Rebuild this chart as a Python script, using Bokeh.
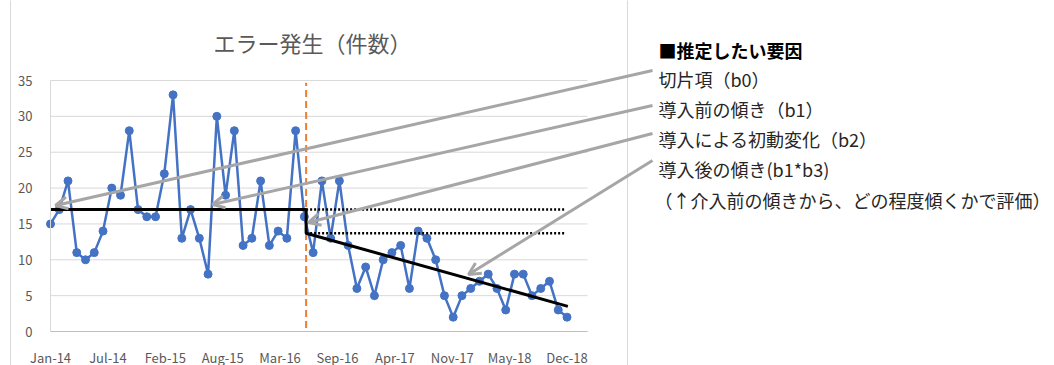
import numpy as np
from bokeh.plotting import figure
from bokeh.models import (Range1d, FixedTicker, Label, Arrow, OpenHead,
                          ColumnDataSource, LinearAxis)
from bokeh.embed import file_html
from bokeh.resources import INLINE

# ---------------- data ----------------
counts = [15, 17, 21, 11, 10, 11, 14, 20, 19, 28,
          17, 16, 16, 22, 33, 13, 17, 13, 8, 30,
          19, 28, 12, 13, 21, 12, 14, 13, 28, 16,
          11, 21, 13, 21, 12, 6, 9, 5, 10, 11,
          12, 6, 14, 13, 10, 5, 2, 5, 6, 7,
          8, 6, 3, 8, 8, 5, 6, 7, 3, 2]
tick_labels = ["Jan-14", "Jul-14", "Feb-15", "Aug-15", "Mar-16",
               "Sep-16", "Apr-17", "Nov-17", "May-18", "Dec-18"]
y_ticks = [0, 5, 10, 15, 20, 25, 30, 35]

# fitted segmented-regression lines
intervention = 29.2      # month index of the orange dashed line
b0 = 17.0                # level before intervention
post_start = 13.7        # level just after intervention
post_end_x = 59.1
post_end = 3.5
dotted_end_x = 58.7

title_text = "エラー発生（件数）"
heading = "■推定したい要因"
notes = ["切片項（b0）", "導入前の傾き（b1）", "導入による初動変化（b2）",
         "導入後の傾き(b1*b3)", "（↑介入前の傾きから、どの程度傾くかで評価）"]

FONT = "Noto Sans CJK JP"
GRAY = "#595959"

# ---------------- geometry of the plot area (pixels) ----------------
W, H = 1054, 365
left, right, top, bottom = 50, 587, 80, 331
n = len(counts)
px_per_month = (566 - 49.5) / (n - 1)
px_per_unit = (bottom - top) / 35.0
x_end = (right - left) / px_per_month

def dx(px):
    return (px - left) / px_per_month

def dy(py):
    return (bottom - py) / px_per_unit

# the frame covers the whole canvas so that notes and arrows are not clipped
p = figure(width=W, height=H, output_backend="svg", toolbar_location=None,
           x_range=Range1d(dx(0), dx(W)), y_range=Range1d(dy(H), dy(0)),
           x_axis_location=None, y_axis_location=None,
           min_border=0, min_border_left=0, min_border_right=0,
           min_border_top=0, min_border_bottom=0)
p.title.visible = False
p.outline_line_color = None
p.background_fill_color = "white"
p.border_fill_color = "white"
p.grid.visible = False

# axes drawn at the plot-area edges
xt = [round(float(v), 4) for v in np.linspace(0, n - 1, len(tick_labels))]
xaxis = LinearAxis(fixed_location=0, bounds=(0, x_end), ticker=FixedTicker(ticks=xt),
                   major_label_overrides={t: lab for t, lab in zip(xt, tick_labels)})
yaxis = LinearAxis(fixed_location=0, bounds=(0, 35), ticker=FixedTicker(ticks=y_ticks))
for ax in (xaxis, yaxis):
    ax.major_tick_line_color = None
    ax.minor_tick_line_color = None
    ax.major_label_text_font = FONT
    ax.major_label_text_font_size = "13px"
    ax.major_label_text_color = GRAY
xaxis.axis_line_color = "#bfbfbf"
yaxis.axis_line_color = "#d9d9d9"
xaxis.major_label_standoff = 10
yaxis.major_label_standoff = 12
p.add_layout(xaxis, "below")
p.add_layout(yaxis, "left")

# horizontal gridlines
p.segment(x0=[0] * len(y_ticks), y0=y_ticks, x1=[x_end] * len(y_ticks), y1=y_ticks,
          line_color="#d9d9d9", line_width=1, level="underlay")

# data series
x = list(range(n))
src = ColumnDataSource(dict(x=x, y=counts))
p.line("x", "y", source=src, line_color="#4472C4", line_width=2.5)
p.scatter("x", "y", source=src, size=8, fill_color="#4472C4", line_color="#4472C4")

# intervention line
p.segment(x0=[intervention], y0=[0.5], x1=[intervention], y1=[34.7],
          line_color="#ED7D31", line_width=2, line_dash="7 4")

# regression lines
p.line([0, intervention, intervention, post_end_x], [b0, b0, post_start, post_end],
       line_color="black", line_width=3)
p.segment(x0=[intervention, intervention], y0=[b0, post_start],
          x1=[dotted_end_x, dotted_end_x], y1=[b0, post_start],
          line_color="black", line_width=2.5, line_dash="2 2")

# chart box borders
for bx in (10, 627):
    p.add_layout(Arrow(x_start=dx(bx), y_start=dy(H + 5), x_end=dx(bx), y_end=dy(-5),
                       end=None, line_color="#d9d9d9", line_width=1))

# title
p.add_layout(Label(x=dx(312), y=dy(41), text=title_text, text_align="center",
                   text_baseline="middle", text_font=FONT, text_font_size="22px",
                   text_color=GRAY))

# right-hand notes
p.add_layout(Label(x=dx(658), y=dy(49), text=heading, text_baseline="middle",
                   text_font=FONT, text_font_size="18px", text_font_style="bold",
                   text_color="black"))
note_y = [78, 108, 138, 168, 199]
note_x = [658, 658, 658, 658, 654]
for t, xx, yy in zip(notes, note_x, note_y):
    p.add_layout(Label(x=dx(xx), y=dy(yy), text=t, text_baseline="middle",
                       text_font=FONT, text_font_size="18px", text_color="#262626"))

# gray arrows (start at the notes, end at the model lines)
arrows = [((652, 70), (55, 205)), ((652, 105), (212, 204)),
          ((652, 133), (308, 222)), ((652, 160), (468, 274))]
for (sx, sy), (ex, ey) in arrows:
    p.add_layout(Arrow(x_start=dx(sx), y_start=dy(sy), x_end=dx(ex), y_end=dy(ey),
                       line_color="#a6a6a6", line_width=3,
                       end=OpenHead(size=12, line_color="#a6a6a6", line_width=3)))

open("out.html", "w").write(file_html(p, INLINE))
